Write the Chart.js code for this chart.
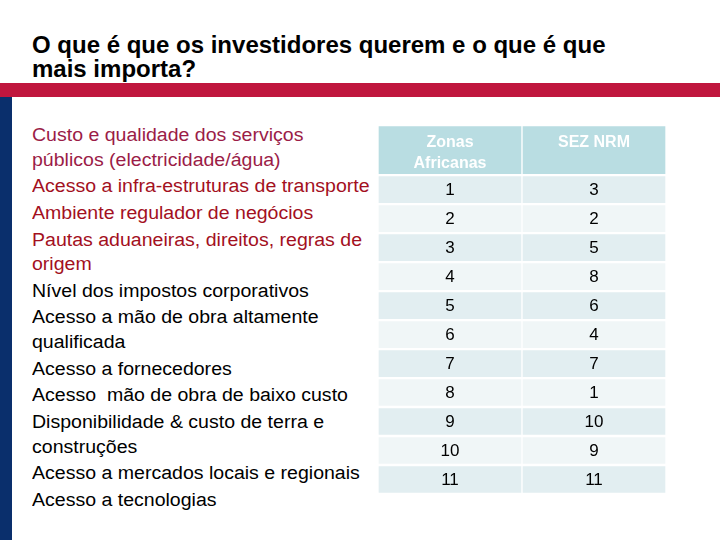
<!DOCTYPE html>
<html>
<head>
<meta charset="utf-8">
<script src="https://cdn.jsdelivr.net/npm/chart.js@4.4.1/dist/chart.umd.min.js"></script>
<style>
  html, body { margin: 0; padding: 0; background: #fff; }
  body { width: 720px; height: 540px; position: relative; overflow: hidden; font-family: "Liberation Sans", Arial, sans-serif; }
  #title { position: absolute; left: 32px; top: 32.5px; font-size: 24px; font-weight: bold; line-height: 24.5px; color: #000; white-space: nowrap; }
  #redbar { position: absolute; left: 0; top: 83px; width: 720px; height: 14px; background: #c0163e; }
  #navybar { position: absolute; left: 0; top: 97px; width: 12px; height: 443px; background: #0a2f6c; }
  #factors { position: absolute; left: 32px; top: 123px; font-size: 18px; line-height: 24.5px; white-space: nowrap;
             transform: scaleX(1.085); transform-origin: 0 0; }
  #factors div + div { margin-top: 2.2px; }
  #tableBox { position: absolute; left: 378px; top: 125px; width: 288px; height: 369px; }
</style>
</head>
<body>
<div id="title">O que é que os investidores querem e o que é que<br>mais importa?</div>
<div id="redbar"></div>
<div id="navybar"></div>
<div id="factors"></div>
<div id="tableBox"><canvas id="rankTable"></canvas></div>
<script>
// left-hand list: factor text (with manual line breaks) and its colour
const factors = [
    "Custo e qualidade dos serviços\npúblicos (electricidade/água)",
    "Acesso a infra-estruturas de transporte",
    "Ambiente regulador de negócios",
    "Pautas aduaneiras, direitos, regras de\norigem",
    "Nível dos impostos corporativos",
    "Acesso a mão de obra altamente\nqualificada",
    "Acesso a fornecedores",
    "Acesso  mão de obra de baixo custo",
    "Disponibilidade & custo de terra e\nconstruções",
    "Acesso a mercados locais e regionais",
    "Acesso a tecnologias",
];
const factorColors = [
    "#9b1c47", "#a3101e", "#a3101e", "#a3101e",
    "#000", "#000", "#000", "#000", "#000", "#000", "#000",
];

// table columns and rankings
const columns = ["Zonas Africanas", "SEZ NRM"];
const headerLines = [["Zonas", "Africanas"], ["SEZ NRM"]];
const zonasAfricanas = [1, 2, 3, 4, 5, 6, 7, 8, 9, 10, 11];
const sezNrm = [3, 2, 5, 8, 6, 4, 7, 1, 10, 9, 11];

const list = document.getElementById("factors");
factors.forEach((f, i) => {
    const d = document.createElement("div");
    d.style.color = factorColors[i];
    d.style.whiteSpace = "pre";
    d.textContent = f;
    list.appendChild(d);
});

const HEADER_SPAN = 1.73;
const headerFill = "#b9dde2";
const oddFill = "#e2eef1";
const evenFill = "#f0f6f7";

const datasets = [{
    label: "header",
    data: columns.map(() => [-HEADER_SPAN, 0]),
    backgroundColor: headerFill,
    texts: headerLines,
    isHeader: true,
}];
zonasAfricanas.forEach((v, i) => {
    datasets.push({
        label: "row " + (i + 1),
        data: columns.map(() => [i, i + 1]),
        backgroundColor: i % 2 === 0 ? oddFill : evenFill,
        texts: [[String(v)], [String(sezNrm[i])]],
    });
});

// draws the cell text on top of each bar
const cellText = {
    id: "cellText",
    afterDatasetsDraw(chart) {
        const ctx = chart.ctx;
        ctx.save();
        ctx.textAlign = "center";
        ctx.textBaseline = "middle";
        chart.data.datasets.forEach((ds, di) => {
            const meta = chart.getDatasetMeta(di);
            meta.data.forEach((bar, j) => {
                const lines = ds.texts[j];
                const top = Math.min(bar.y, bar.base);
                const bottom = Math.max(bar.y, bar.base);
                if (ds.isHeader) {
                    ctx.font = "bold 16px 'Liberation Sans', Arial, sans-serif";
                    ctx.fillStyle = "#fff";
                    lines.forEach((t, k) => ctx.fillText(t, bar.x, top + 18 + k * 21));
                } else {
                    ctx.font = "17px 'Liberation Sans', Arial, sans-serif";
                    ctx.fillStyle = "#000";
                    ctx.fillText(lines[0], bar.x, (top + bottom) / 2 + 1);
                }
            });
        });
        ctx.restore();
    }
};

new Chart(document.getElementById("rankTable"), {
    type: "bar",
    data: {
        labels: columns,
        datasets: datasets.map(d => Object.assign(d, {
            grouped: false,
            categoryPercentage: 1,
            barPercentage: 1,
            borderColor: "#fff",
            borderWidth: { top: 1.5, bottom: 1.5, left: 1, right: 1 },
            borderSkipped: false,
        })),
    },
    options: {
        responsive: true,
        maintainAspectRatio: false,
        animation: false,
        layout: { padding: 0 },
        plugins: {
            legend: { display: false },
            tooltip: { enabled: false },
        },
        scales: {
            x: { display: false, offset: true },
            y: { display: false, min: -HEADER_SPAN, max: 11, reverse: true },
        },
    },
    plugins: [cellText],
});
</script>
</body>
</html>
